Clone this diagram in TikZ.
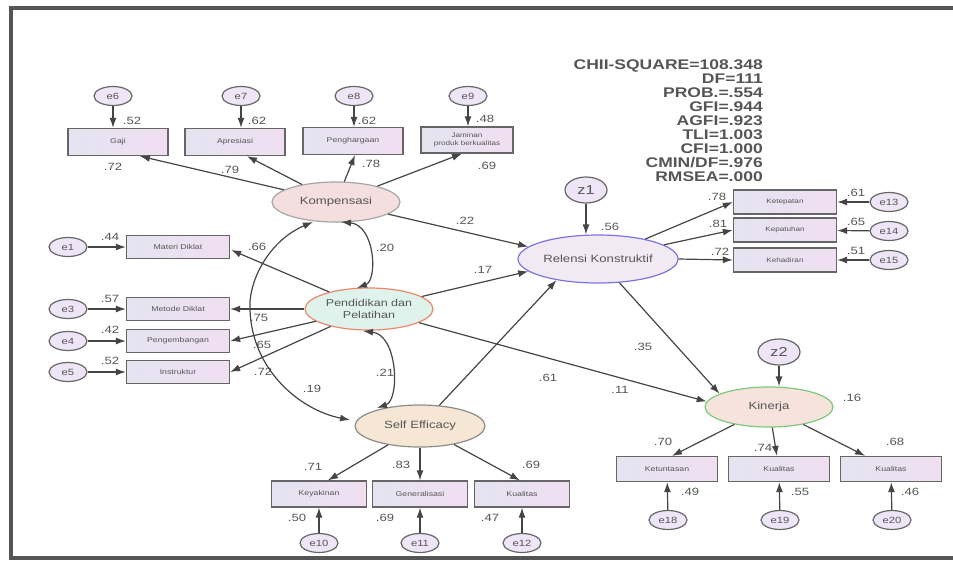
\documentclass[tikz,border=0pt]{standalone}
\usepackage{fontspec}
\setmainfont[FakeStretch=1.25]{Liberation Sans}
\usetikzlibrary{arrows.meta,shapes.geometric,calc}
\definecolor{ln}{HTML}{454545}
\definecolor{frame}{HTML}{555555}
\definecolor{boxl}{HTML}{E4E4F0}
\definecolor{boxr}{HTML}{F0DFF0}
\definecolor{bx}{HTML}{666666}
\definecolor{errf}{HTML}{EEE6F6}
\definecolor{txt}{HTML}{555555}
\definecolor{cf}{HTML}{555555}
\definecolor{kompf}{HTML}{F4DEDE}
\definecolor{pendf}{HTML}{DFF3EC}
\definecolor{pendd}{HTML}{E88A6A}
\definecolor{selff}{HTML}{F5E7D3}
\definecolor{relf}{HTML}{F2E9F2}
\definecolor{reld}{HTML}{7B74E0}
\definecolor{kinf}{HTML}{F6E4DC}
\definecolor{kind}{HTML}{7CC87C}
\begin{document}
\begin{tikzpicture}[x=1pt,y=-1pt,
  arr/.style={draw=ln, line width=1.2pt, -{Latex[length=10pt,width=7pt]}},
  cov/.style={draw=ln, line width=1.2pt, {Latex[length=10pt,width=7pt]}-{Latex[length=10pt,width=7pt]}},
  obs/.style={rectangle, draw=bx, line width=1.3pt, left color=boxl, right color=boxr, minimum width=100pt, minimum height=27pt, inner sep=0pt, font=\fontsize{7}{8}\selectfont, text=txt},
  err/.style={ellipse, draw=bx, line width=1.2pt, fill=errf, minimum width=38pt, minimum height=19pt, inner sep=0pt, font=\fontsize{9}{10}\selectfont, text=txt},
  dist/.style={ellipse, draw=bx, line width=1.2pt, fill=errf, minimum width=42pt, minimum height=26pt, inner sep=0pt, font=\fontsize{13}{14}\selectfont, text=txt},
  lat/.style={ellipse, line width=1.2pt, minimum width=128pt, minimum height=40pt, inner sep=0pt, font=\fontsize{10.5}{12}\selectfont, text=txt, align=center},
  coef/.style={font=\fontsize{10.5}{12}\selectfont, text=cf, inner sep=0pt},
]
\useasboundingbox (0,0) rectangle (953,566);
\draw[line width=4pt, draw=frame] (956,8) -- (11,8) -- (11,558) -- (956,558);

% fit statistics
\node[anchor=north east, inner sep=0pt, align=right, text=txt, font=\fontsize{14}{14}\selectfont\bfseries] (stats) at (763,60)
 {CHII-SQUARE=108.348\\DF=111\\PROB.=.554\\GFI=.944\\AGFI=.923\\TLI=1.003\\CFI=1.000\\CMIN/DF=.976\\RMSEA=.000};

% latent variables
\node[lat, fill=kompf, draw=gray!70] (komp) at (336,202) {Kompensasi};
\node[lat, fill=pendf, draw=pendd, minimum height=42pt, font=\fontsize{10}{12}\selectfont] (pend) at (369,309) {Pendidikan dan\\Pelatihan};
\node[lat, fill=selff, draw=gray!90, minimum width=130pt, minimum height=42pt] (self) at (420,426) {Self Efficacy};
\node[lat, fill=relf, draw=reld, minimum width=160pt, minimum height=48pt] (rel) at (598,259) {Relensi Konstruktif};
\node[lat, fill=kinf, draw=kind] (kin) at (769,407) {Kinerja};

% top indicators
\node[obs] (gaji) at (118,142) {Gaji};
\node[obs] (apr) at (235,142) {Apresiasi};
\node[obs] (phg) at (353,141) {Penghargaan};
\node[obs, minimum width=92pt, minimum height=26pt, align=center, font=\fontsize{6.5}{7.5}\selectfont] (jam) at (467,140) {Jaminan\\produk berkualitas};
\node[err] (e6) at (113,96) {e6};
\node[err] (e7) at (241,96) {e7};
\node[err] (e8) at (354,96) {e8};
\node[err] (e9) at (468,96) {e9};
\draw[arr] (e6) -- (e6 |- gaji.north);
\draw[arr] (e7) -- (e7 |- apr.north);
\draw[arr] (e8) -- (e8 |- phg.north);
\draw[arr] (e9) -- (e9 |- jam.north);
\node[coef] (c52a) at (132,121) {.52};
\node[coef] (c62a) at (257,121) {.62};
\node[coef] (c62b) at (367,121) {.62};
\node[coef] (c48) at (485,119) {.48};
\draw[arr] (komp) -- ($(gaji.south)+(22,0)$);
\draw[arr] (komp) -- ($(apr.south)+(12,0)$);
\draw[arr] (komp) -- ($(phg.south)+(2,0)$);
\draw[arr] (komp) -- ($(jam.south)+(-5,0)$);
\node[coef] (c72a) at (113,167) {.72};
\node[coef] (c79) at (230,170) {.79};
\node[coef] (c78a) at (371,164) {.78};
\node[coef] (c69a) at (487,166) {.69};

% left indicators
\node[obs, minimum width=103pt, minimum height=23pt] (mat) at (178,247) {Materi Diklat};
\node[obs, minimum width=103pt, minimum height=23pt] (met) at (178,309) {Metode Diklat};
\node[obs, minimum width=103pt, minimum height=23pt] (peng) at (178,341) {Pengembangan};
\node[obs, minimum width=103pt, minimum height=23pt] (ins) at (178,372) {Instruktur};
\node[err] (e1) at (68,247) {e1};
\node[err] (e3) at (68,309) {e3};
\node[err] (e4) at (68,341) {e4};
\node[err] (e5) at (68,372) {e5};
\draw[arr] (e1) -- (mat);
\draw[arr] (e3) -- (met);
\draw[arr] (e4) -- (peng);
\draw[arr] (e5) -- (ins);
\node[coef] (c44) at (110,237) {.44};
\node[coef] (c57) at (110,299) {.57};
\node[coef] (c42) at (110,330) {.42};
\node[coef] (c52b) at (110,361) {.52};
\draw[arr] (pend) -- ($(mat.east)+(1,3)$);
\draw[arr] (pend) -- (pend -| met.east);
\draw[arr] (pend) -- (peng.east);
\draw[arr] (pend) -- (ins.east);
\node[coef] (c66) at (257,247) {.66};
\node[coef] (c75) at (259,318) {.75};
\node[coef] (c65a) at (262,345) {.65};
\node[coef] (c72b) at (263,372) {.72};

% covariances
\draw[cov] (341,222) .. controls (375,225) and (378,280) .. (357,288);
\draw[cov] (363,331) .. controls (398,335) and (400,400) .. (377,408);
\draw[cov] (313,222) .. controls (270,240) and (248,280) .. (250,310) .. controls (252,370) and (300,410) .. (350,420);
\node[coef] (c20) at (385,248) {.20};
\node[coef] (c21) at (385,373) {.21};
\node[coef] (c19) at (312,389) {.19};

% bottom indicators (Self Efficacy)
\node[obs, minimum width=95pt, minimum height=26pt] (key) at (319,494) {Keyakinan};
\node[obs, minimum width=95pt, minimum height=26pt] (gen) at (420,494) {Generalisasi};
\node[obs, minimum width=95pt, minimum height=26pt] (kual) at (522,494) {Kualitas};
\node[err] (e10) at (319,543) {e10};
\node[err] (e11) at (420,543) {e11};
\node[err] (e12) at (522,543) {e12};
\draw[arr] (e10) -- (key);
\draw[arr] (e11) -- (gen);
\draw[arr] (e12) -- (kual);
\draw[arr] (self) -- ($(key.north)+(9,0)$);
\draw[arr] (self) -- (gen);
\draw[arr] (self) -- ($(kual.north)+(-2,0)$);
\node[coef] (c71) at (313,467) {.71};
\node[coef] (c83) at (401,465) {.83};
\node[coef] (c69b) at (531,465) {.69};
\node[coef] (c50) at (297,518) {.50};
\node[coef] (c69c) at (385,518) {.69};
\node[coef] (c47) at (490,518) {.47};

% Relensi Konstruktif
\node[dist] (z1) at (586,190) {z1};
\draw[arr] (z1) -- (z1 |- rel.north);
\node[coef] (c56) at (610,227) {.56};
\draw[arr] (komp) -- (rel.170);
\draw[arr] (pend) -- (rel.190);
\draw[arr] (self) -- (rel.207);
\node[coef] (c22) at (465,221) {.22};
\node[coef] (c17) at (483,270) {.17};
\node[coef] (c61a) at (548,378) {.61};

\node[obs, minimum width=103pt, minimum height=24pt, font=\fontsize{6.5}{7.5}\selectfont] (r1) at (785,202) {Ketepatan};
\node[obs, minimum width=103pt, minimum height=24pt, font=\fontsize{6.5}{7.5}\selectfont] (r2) at (785,230) {Kepatuhan};
\node[obs, minimum width=103pt, minimum height=24pt, font=\fontsize{6.5}{7.5}\selectfont] (r3) at (785,260) {Kehadiran};
\node[err] (e13) at (889,202) {e13};
\node[err] (e14) at (889,231) {e14};
\node[err] (e15) at (889,260) {e15};
\draw[arr] (rel) -- (r1.west);
\draw[arr] (rel) -- (r2.west);
\draw[arr] (rel.east) -- (r3.west);
\draw[arr] (e13) -- (r1);
\draw[arr] (e14) -- (r2);
\draw[arr] (e15) -- (r3);
\node[coef] (c78b) at (717,197) {.78};
\node[coef] (c81) at (718,224) {.81};
\node[coef] (c72c) at (720,252) {.72};
\node[coef] (c61b) at (856,193) {.61};
\node[coef] (c65b) at (856,222) {.65};
\node[coef] (c51) at (856,251) {.51};

% Kinerja
\node[dist] (z2) at (779,352) {z2};
\draw[arr] (z2) -- (z2 |- kin.north);
\node[coef] (c16) at (852,398) {.16};
\draw[arr] (rel) -- (kin.165);
\draw[arr] (pend) -- (kin.175);
\node[coef] (c35) at (643,347) {.35};
\node[coef] (c11) at (620,390) {.11};

\node[obs, minimum width=101pt, minimum height=25pt] (k1) at (667,469) {Ketuntasan};
\node[obs, minimum width=101pt, minimum height=25pt] (k2) at (779,469) {Kualitas};
\node[obs, minimum width=101pt, minimum height=25pt] (k3) at (891,469) {Kualitas};
\node[err] (e18) at (668,520) {e18};
\node[err] (e19) at (780,520) {e19};
\node[err] (e20) at (892,520) {e20};
\draw[arr] (e18) -- (k1);
\draw[arr] (e19) -- (k2);
\draw[arr] (e20) -- (k3);
\draw[arr] (kin) -- ($(k1.north)+(5,0)$);
\draw[arr] (kin) -- (k2);
\draw[arr] (kin) -- (k3);
\node[coef] (c70) at (663,442) {.70};
\node[coef] (c74) at (763,448) {.74};
\node[coef] (c68) at (895,442) {.68};
\node[coef] (c49) at (690,492) {.49};
\node[coef] (c55) at (800,492) {.55};
\node[coef] (c46) at (910,492) {.46};
\end{tikzpicture}
\end{document}
